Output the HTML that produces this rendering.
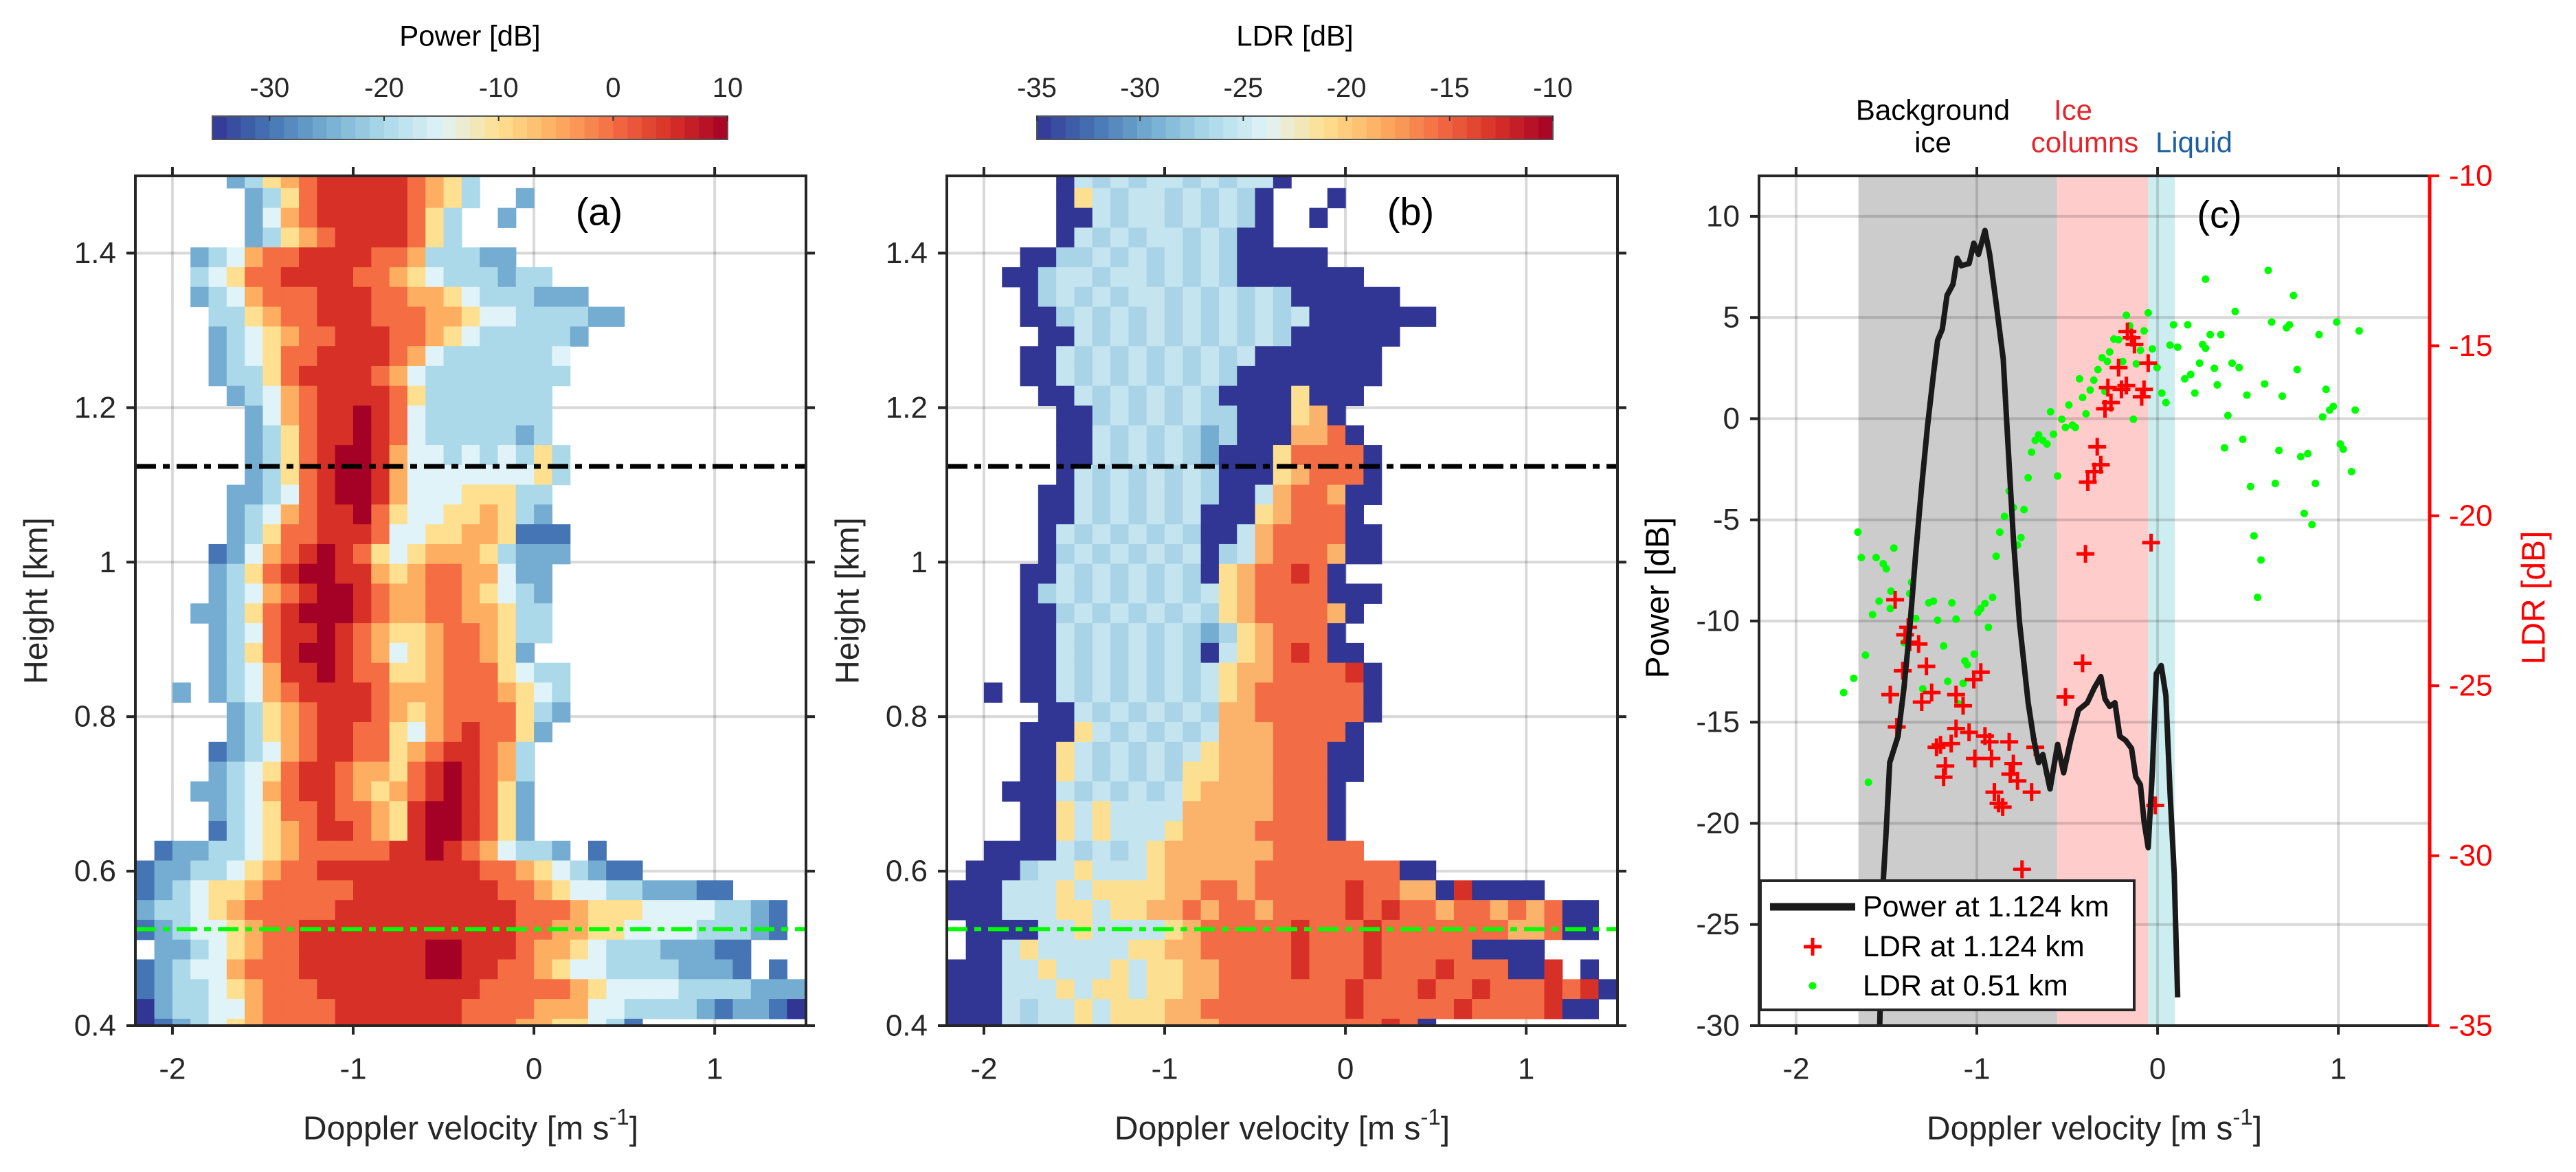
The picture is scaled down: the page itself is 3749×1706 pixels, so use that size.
<!DOCTYPE html>
<html><head><meta charset="utf-8"><title>Radar Doppler spectra</title>
<style>
html,body{margin:0;padding:0;background:#fff;}
svg{display:block;font-family:"Liberation Sans",Arial,sans-serif;}
</style></head>
<body>
<svg id="chart" xmlns="http://www.w3.org/2000/svg" width="3749" height="1706" viewBox="0 0 3749 1706"></svg>
<script>
// ---------- DATA ----------
const velStart = -2.2;
const velStep = 0.1;
const firstRowBottom = 0.3834;
const rowStep = 0.0256;
const powerLevelDb = [-33, -28.5, -24, -19.5, -15, -10.5, -6, -1.5, 3, 7.5];
const ldrLevelDb = [-35, -32.5, -30, -27.5, -25, -22.5, -20, -16.5, -13, -11];
const powerRows = [
".....23567888887653",
"......2357888887653..2",
"......246788888753..2",
"......235678888753",
"...234677888877633322",
"...34577888877654333233",
"...2346777888776654333222",
"....33567788877766544333322",
"....234567788877654333332",
"....23457788887643333334",
"....23357888876433333333",
".....234678888753333333",
"......24678898743333333",
"......23578898743333323",
"......235789986443434353",
"......235789986444444453",
".....223478998644455533",
".....234678897544556532",
".....2357788874455665111",
"....12467898754566653222",
"....2357899886567766422",
"....2346789987667765432",
"...22357899987667766533",
"....2347889876556776533",
"....235789987645677652",
"....23468898775567775433",
"..2.23467888876667776543",
".....2356788876567777532",
".....235678877546787752",
"....123467887756788763",
"....234578876657898763",
"...2234678876567898752",
"....234577877658998752",
"....134567887658998752",
".12233456777778898764332.1",
"1223345677888888888776543211",
"123455677777888888887765443322211",
"233456777778888888888777655544443321",
"123445677888888888888776655444433321",
".223456778888888998887665433322211",
"1234467778888888998877654433332221.1",
"1233456777888888888777776544443333222",
"0233446777788888887777666443333212210",
"0123456777788888887776655431"
];
const ldrRows = [
"......0434344343440",
"......054344343430...0",
"......004344343430..0",
"......043434434300",
"....00334343434300000",
"...00344344343430000000",
"....034343443434343000000",
"....00343434343434340000000",
".....00434343434343000000",
"....00434343434340000000",
"....00434343434300000000",
".....004343434300005000",
"......0034343433000560",
"......00434343230006670",
"......004343432000577770",
"......043434343000567770",
".....0043434343004677600",
".....004343434000567770",
".....0434343430046777700",
".....0343434340346777600",
"....004343434305677870",
"....03434343434567777000",
"....0034343434356777760",
"....004343434323567770",
"....0043434343045678700",
"....00434343434566777780",
"..0.00434343434567777770",
".....0043434343667777770",
"....0005434343466677770",
"....0054343434566677700",
"....0054343435566677700",
"...0004343434566667770",
"....005454444666667770",
"....005454445666677770",
"..000043434566666677777",
".00034454445666667777777700",
"000444545555667767777787766080000",
"0004445545566767767777878776776767 00".replace(' ',''),
".00004454444567777787778777777766700",
".00454444455667777787778777770000",
"0004454445455667777877787778777008.0",
"0004445455455667777777877787787778780",
"00043445455566777777778777778777780 0.0".replace(' ',''),
"000434454555666777777777870"
];
const powerVel = [-1.54,-1.518,-1.501,-1.482,-1.436,-1.403,-1.371,-1.338,-1.305,-1.273,-1.240,-1.217,-1.191,-1.165,-1.132,-1.109,-1.086,-1.043,-1.017,-0.991,-0.955,-0.929,-0.896,-0.854,-0.831,-0.798,-0.765,-0.716,-0.684,-0.658,-0.635,-0.595,-0.553,-0.520,-0.481,-0.438,-0.389,-0.350,-0.314,-0.291,-0.265,-0.236,-0.209,-0.177,-0.144,-0.121,-0.095,-0.075,-0.052,-0.029,-0.007,0.020,0.046,0.069,0.092,0.111];
const powerDb = [-31,-22.9,-20.3,-17.0,-15.7,-13.3,-10.35,-6.65,-3.33,-0.38,2.2,3.87,4.42,6.09,6.64,7.93,7.56,7.67,8.67,8.12,9.3,8.12,5.9,2.95,-0.75,-5.9,-9.98,-14.04,-15.9,-17.0,-16.6,-18.3,-16.1,-17.5,-15.9,-14.4,-14.04,-13.3,-12.75,-13.85,-14.22,-14.04,-15.7,-15.9,-16.3,-17.7,-18.1,-19.9,-21.2,-17.4,-12.6,-12.2,-13.7,-18.5,-22.5,-28.6];
const ldr1Vel = [-1.452,-1.380,-1.397,-1.371,-1.322,-1.410,-1.279,-1.479,-1.250,-1.305,-1.443,-1.223,-1.201,-1.142,-1.174,-1.184,-1.115,-1.076,-1.115,-1.017,-0.978,-1.043,-1.011,-0.955,-0.929,-0.919,-0.821,-0.798,-0.815,-0.775,-0.903,-0.880,-0.857,-0.697,-0.677,-0.510,-0.415,-0.399,-0.386,-0.350,-0.314,-0.334,-0.291,-0.275,-0.258,-0.216,-0.200,-0.173,-0.088,-0.075,-0.052,-0.167,-0.144,-0.128,-0.036,-0.013,-0.75];
const ldr1Db = [-22.47,-23.28,-23.50,-23.72,-23.77,-24.56,-24.43,-25.26,-25.20,-25.48,-26.21,-26.81,-26.74,-26.70,-27.36,-27.69,-25.26,-25.59,-26.26,-24.82,-24.60,-26.37,-27.14,-26.48,-26.65,-27.14,-26.65,-27.29,-27.60,-27.80,-28.13,-28.46,-28.57,-28.13,-26.81,-25.33,-24.34,-21.12,-19.01,-18.70,-18.50,-17.97,-16.85,-16.23,-16.67,-15.64,-16.28,-16.17,-16.50,-16.28,-15.51,-14.58,-14.76,-14.96,-20.79,-28.52,-30.4];
const ldr2Vel = [-1.737,-1.681,-1.616,-1.658,-1.639,-1.557,-1.518,-1.501,-1.459,-1.577,-1.541,-1.479,-1.475,-1.403,-1.361,-1.371,-1.338,-1.299,-1.266,-1.240,-1.217,-1.184,-1.138,-1.115,-1.161,-1.076,-1.066,-1.053,-1.014,-0.994,-0.978,-0.955,-0.936,-0.913,-1.600,-1.102,-0.893,-0.873,-0.847,-0.821,-0.798,-0.775,-0.756,-0.739,-0.716,-0.697,-0.677,-0.658,-0.635,-0.612,-0.592,-0.576,-0.553,-0.530,-0.510,-0.491,-0.471,-0.455,-0.432,-0.415,-0.396,-0.373,-0.353,-0.330,-0.307,-0.291,-0.278,-0.265,-0.242,-0.216,-0.193,-0.173,-0.154,-0.134,-0.118,-0.095,-0.075,-0.052,-0.029,-0.003,0.023,0.046,0.069,0.088,0.111,0.150,0.167,0.183,0.206,0.232,0.249,0.265,0.291,0.314,0.330,0.350,0.370,0.389,0.412,0.429,0.451,0.471,0.494,0.514,0.533,0.553,0.572,0.592,0.612,0.631,0.651,0.671,0.690,0.713,0.729,0.752,0.772,0.792,0.811,0.831,0.854,0.873,0.893,0.913,0.932,0.952,0.972,0.991,1.011,1.027,1.073,1.093,1.115,0.265];
const ldr2Db = [-25.20,-24.78,-24.10,-20.48,-21.23,-21.23,-21.41,-21.56,-20.95,-22.91,-22.51,-22.73,-22.22,-23.73,-21.96,-22.29,-23.02,-25.09,-22.56,-22.51,-23.07,-23.83,-22.56,-23.04,-24.87,-24.93,-24.27,-24.38,-24.07,-22.84,-22.73,-22.58,-23.28,-22.40,-27.84,-25.53,-21.19,-20.48,-20.02,-19.27,-19.76,-20.86,-20.64,-19.82,-18.88,-18.13,-17.78,-17.62,-17.78,-17.89,-16.94,-17.60,-18.83,-17.16,-17.40,-16.74,-17.33,-17.40,-15.97,-16.52,-17.00,-16.30,-16.01,-15.70,-15.35,-16.34,-15.46,-15.18,-14.80,-14.82,-15.46,-14.10,-14.41,-17.16,-15.53,-15.13,-14.56,-14.03,-15.09,-15.64,-16.39,-16.67,-14.98,-14.38,-15.04,-15.97,-14.38,-15.84,-16.39,-15.51,-14.96,-15.07,-14.67,-15.66,-16.15,-14.67,-18.00,-17.05,-15.51,-13.99,-15.64,-17.75,-16.45,-19.14,-20.59,-22.40,-21.30,-16.12,-12.78,-14.30,-19.05,-18.08,-16.48,-14.47,-14.38,-13.52,-15.70,-18.26,-19.93,-18.17,-20.26,-19.05,-14.67,-17.09,-16.28,-16.89,-16.78,-14.30,-17.89,-18.04,-18.70,-16.89,-14.56,-13.04];
const regionEdges = [-1.655, -0.556, -0.052, 0.095];
const regionNames = ["background-ice", "ice-columns", "liquid"];
const velTicks = [-2, -1, 0, 1];
const heightTicks = [0.4, 0.6, 0.8, 1.0, 1.2, 1.4];
const heightTickLabels = ["0.4", "0.6", "0.8", "1", "1.2", "1.4"];
const powerCbTicks = [-30, -20, -10, 0, 10];
const ldrCbTicks = [-35, -30, -25, -20, -15, -10];
const powerAxisTicks = [10, 5, 0, -5, -10, -15, -20, -25, -30];
const ldrAxisTicks = [-10, -15, -20, -25, -30, -35];
const markedHeights = [1.124, 0.525];

// ---------- RENDER ----------
const NS = 'http://www.w3.org/2000/svg';
const svg = document.getElementById('chart');
function mk(tag, attrs, parent) {
  const e = document.createElementNS(NS, tag);
  for (const k in attrs) e.setAttribute(k, attrs[k]);
  (parent || svg).appendChild(e);
  return e;
}
function txt(x, y, s, size, anchor, fill, parent) {
  const t = mk('text', {x: x, y: y, 'font-size': size, 'text-anchor': anchor || 'middle', 'dominant-baseline': 'central', fill: fill || '#262626'}, parent);
  t.textContent = s;
  return t;
}
const palette = ['#313695','#4575b4','#74add1','#abd9e9','#e0f3f8','#fee090','#fdae61','#f46d43','#d73027','#a50026'];
const ldrPalette = ['#313695','#4575b4','#74add1','#a9d3e6','#c4e5ef','#fddf92','#fbb26a','#f26d45','#d73027','#a50026'];
function hex2rgb(h){return [parseInt(h.substr(1,2),16),parseInt(h.substr(3,2),16),parseInt(h.substr(5,2),16)];}
function cmap(f){
  f = Math.max(0, Math.min(1, f));
  const p = f * (palette.length - 1); const i = Math.min(palette.length - 2, Math.floor(p)); const t = p - i;
  const a = hex2rgb(palette[i]), b = hex2rgb(palette[i + 1]);
  return 'rgb(' + a.map((v, j) => Math.round(v + (b[j] - v) * t)).join(',') + ')';
}
const TOP = 256, BOT = 1493, W = 976, H = BOT - TOP;
const XMIN = -2.205, XMAX = 1.505;
function xs(left, v){ return left + (v - XMIN) / (XMAX - XMIN) * W; }
function ysH(h){ return TOP + (1.5 - h) / 1.1 * H; }
const INK = '#262626';

function grid(left, yVals, yFn, parent) {
  velTicks.forEach(v => {
    const l = mk('line', {x1: xs(left, v), x2: xs(left, v), y1: TOP, y2: BOT, stroke: 'rgba(0,0,0,0.15)', 'stroke-width': 4}, parent);
    
    
  });
  yVals.forEach(y => {
    const l = mk('line', {x1: left, x2: left + W, y1: yFn(y), y2: yFn(y), stroke: 'rgba(0,0,0,0.15)', 'stroke-width': 4}, parent);
    
    
  });
}
function frame(left, yVals, yFn, rightColor, parent) {
  const r = mk('rect', {x: left, y: TOP, width: W, height: H, fill: 'none', stroke: INK, 'stroke-width': 4}, parent);
  
  
  velTicks.forEach(v => {
    const x = xs(left, v);
    const t1 = mk('line', {x1: x, x2: x, y1: BOT, y2: BOT + 13, stroke: INK, 'stroke-width': 4}, parent);
    
    
    const t2 = mk('line', {x1: x, x2: x, y1: TOP, y2: TOP - 13, stroke: INK, 'stroke-width': 4}, parent);
    
    
    const lb = txt(x, 1556, (v < 0 ? '-' : '') + Math.abs(v), 44, 'middle', INK, parent);
    
    
  });
  yVals.forEach(y => {
    const t1 = mk('line', {x1: left, x2: left - 13, y1: yFn(y), y2: yFn(y), stroke: INK, 'stroke-width': 4}, parent);
    
    
    if (!rightColor) {
      const t2 = mk('line', {x1: left + W, x2: left + W + 13, y1: yFn(y), y2: yFn(y), stroke: INK, 'stroke-width': 4}, parent);
      
      
    }
  });
  const xl = mk('text', {x: left + W / 2, y: 1643, 'font-size': 48, 'text-anchor': 'middle', 'dominant-baseline': 'central', fill: INK}, parent);
  xl.innerHTML = 'Doppler velocity [m s<tspan dy="-18" font-size="33">-1</tspan><tspan dy="18">]</tspan>';
  
  
}
function heatmap(left, rows, name, pal, parent) {
  const g = mk('g', {'clip-path': 'url(#clip-' + name + ')'}, parent);
  
  
  const n = rows.length;
  rows.forEach((row, i) => {
    const k = n - 1 - i;
    const hb = firstRowBottom + k * rowStep, ht = hb + rowStep;
    const y1 = ysH(ht), y2 = ysH(hb);
    for (let c = 0; c < row.length && c < 37; c++) {
      const ch = row[c];
      if (ch === '.' || ch === ' ') continue;
      const lvl = +ch;
      const v0 = velStart + c * velStep, v1 = v0 + velStep;
      const cell = mk('rect', {x: xs(left, v0), y: y1, width: xs(left, v1) - xs(left, v0) + 0.6, height: y2 - y1 + 0.6, fill: pal[lvl]}, g);
      
      
    }
  });
}
function markLines(left, parent) {
  const l1 = mk('line', {x1: left, x2: left + W, y1: ysH(markedHeights[0]), y2: ysH(markedHeights[0]), stroke: '#000', 'stroke-width': 7, 'stroke-dasharray': '30 10 10 10'}, parent);
  
  
  const l2 = mk('line', {x1: left, x2: left + W, y1: ysH(markedHeights[1]), y2: ysH(markedHeights[1]), stroke: '#00ff00', 'stroke-width': 6, 'stroke-dasharray': '30 10 10 10'}, parent);
  
  
}
function colorbar(x0, x1, vmin, vmax, ticks, title, parent) {
  const n = 36, w = (x1 - x0) / n;
  for (let i = 0; i < n; i++) {
    const b = mk('rect', {x: x0 + i * w, y: 169, width: w + 0.6, height: 34, fill: cmap((i + 0.5) / n)}, parent);
    
    
  }
  const fr = mk('rect', {x: x0, y: 169, width: x1 - x0, height: 34, fill: 'none', stroke: '#555', 'stroke-width': 2}, parent);
  
  
  ticks.forEach(t => {
    const x = x0 + (t - vmin) / (vmax - vmin) * (x1 - x0);
    const tk = mk('line', {x1: x, x2: x, y1: 169, y2: 176, stroke: '#333', 'stroke-width': 2}, parent);
    
    
    const lb = txt(x, 128, String(t), 40, 'middle', INK, parent);
    
    
  });
  const tt = txt((x0 + x1) / 2, 52, title, 42, 'middle', '#000', parent);
  
  
}
function yHeightLabels(left, parent) {
  heightTicks.forEach((h, i) => {
    const lb = txt(left - 28, ysH(h), heightTickLabels[i], 44, 'end', INK, parent);
    
    
  });
  const yl = mk('text', {x: 0, y: 0, 'font-size': 48, 'text-anchor': 'middle', 'dominant-baseline': 'central', fill: INK, transform: 'translate(' + (left - 144) + ',' + ((TOP + BOT) / 2) + ') rotate(-90)'}, parent);
  yl.textContent = 'Height [km]';
  
  
}

const defs = mk('defs', {});
[['power', 197], ['ldr', 1378], ['spec', 2560]].forEach(([n, l]) => {
  const cp = mk('clipPath', {id: 'clip-' + n}, defs);
  mk('rect', {x: l, y: TOP, width: W, height: H}, cp);
});

// Panel (a)
const pa = mk('g', {});


const LA = 197;
grid(LA, heightTicks, ysH, pa);
heatmap(LA, powerRows, 'power', palette, pa);
markLines(LA, pa);
frame(LA, heightTicks, ysH, null, pa);
yHeightLabels(LA, pa);
colorbar(309, 1059, -35, 10, powerCbTicks, 'Power [dB]', pa);
const la = txt(872, 308, '(a)', 56, 'middle', '#000', pa);



// Panel (b)
const pb = mk('g', {});


const LB = 1378;
grid(LB, heightTicks, ysH, pb);
heatmap(LB, ldrRows, 'ldr', ldrPalette, pb);
markLines(LB, pb);
frame(LB, heightTicks, ysH, null, pb);
yHeightLabels(LB, pb);
colorbar(1509, 2260, -35, -10, ldrCbTicks, 'LDR [dB]', pb);
const lbb = txt(2053, 308, '(b)', 56, 'middle', '#000', pb);



// Panel (c)
const pc = mk('g', {});


const LC = 2560;
function yP(p){ return TOP + (12 - p) / 42 * H; }
function yL(l){ return TOP + (-10 - l) / 25 * H; }
const regionColors = ['#cccccc', '#ffcccc', '#cdeef0'];
for (let i = 0; i < regionNames.length; i++) {
  const x0 = xs(LC, regionEdges[i]), x1 = xs(LC, regionEdges[i + 1]);
  const r = mk('rect', {x: x0, y: TOP, width: x1 - x0, height: H, fill: regionColors[i]}, pc);
  
  
}
grid(LC, powerAxisTicks, yP, pc);
const cg = mk('g', {'clip-path': 'url(#clip-spec)'}, pc);


ldr2Vel.forEach((v, i) => {
  const d = mk('circle', {cx: xs(LC, v), cy: yL(ldr2Db[i]), r: 5.5, fill: '#00ff00'}, cg);
  
  
});
ldr1Vel.forEach((v, i) => {
  const x = xs(LC, v), y = yL(ldr1Db[i]);
  const p = mk('path', {d: 'M' + (x - 13) + ' ' + y + 'H' + (x + 13) + 'M' + x + ' ' + (y - 13) + 'V' + (y + 13), stroke: '#ff0000', 'stroke-width': 5, fill: 'none'}, cg);
  
  
});
const pw = mk('polyline', {points: powerVel.map((v, i) => xs(LC, v) + ',' + yP(powerDb[i])).join(' '), fill: 'none', stroke: '#1a1a1a', 'stroke-width': 8, 'stroke-linejoin': 'round'}, cg);


frame(LC, powerAxisTicks, yP, '#ff0000', pc);
const rax = mk('line', {x1: LC + W, x2: LC + W, y1: TOP - 2, y2: BOT + 2, stroke: '#ff0000', 'stroke-width': 5}, pc);


powerAxisTicks.forEach(p => {
  const lb = txt(LC - 28, yP(p), String(p), 44, 'end', INK, pc);
  
  
});
ldrAxisTicks.forEach(l => {
  const tk = mk('line', {x1: LC + W, x2: LC + W + 14, y1: yL(l), y2: yL(l), stroke: '#ff0000', 'stroke-width': 4}, pc);
  
  
  const lb = txt(LC + W + 28, yL(l), String(l), 44, 'start', '#ff0000', pc);
  
  
});
const pyl = mk('text', {x: 0, y: 0, 'font-size': 48, 'text-anchor': 'middle', 'dominant-baseline': 'central', fill: '#000', transform: 'translate(2413,870) rotate(-90)'}, pc);
pyl.textContent = 'Power [dB]';


const lyl = mk('text', {x: 0, y: 0, 'font-size': 48, 'text-anchor': 'middle', 'dominant-baseline': 'central', fill: '#ff0000', transform: 'translate(3688,870) rotate(-90)'}, pc);
lyl.textContent = 'LDR [dB]';


const lc = txt(3230, 312, '(c)', 56, 'middle', '#000', pc);


const rl1 = txt(2813, 160, 'Background', 42, 'middle', '#000', pc);


const rl2 = txt(2813, 207, 'ice', 42, 'middle', '#000', pc);


const rl3 = txt(3017, 160, 'Ice', 42, 'middle', '#e4262c', pc);


const rl4 = txt(3034, 207, 'columns', 42, 'middle', '#e4262c', pc);


const rl5 = txt(3193, 207, 'Liquid', 42, 'middle', '#1d5fa3', pc);


const lg = mk('g', {}, pc);


const lgb = mk('rect', {x: 2562, y: 1282, width: 544, height: 188, fill: '#fff', stroke: INK, 'stroke-width': 4}, lg);


const e1 = mk('line', {x1: 2576, x2: 2700, y1: 1320, y2: 1320, stroke: '#1a1a1a', 'stroke-width': 11}, lg);


const e2 = mk('path', {d: 'M2625 1378H2651M2638 1365V1391', stroke: '#ff0000', 'stroke-width': 5}, lg);


const e3 = mk('circle', {cx: 2638, cy: 1435, r: 5.5, fill: '#00ff00'}, lg);


const t1 = txt(2711, 1320, 'Power at 1.124 km', 43, 'start', '#000', lg);


const t2 = txt(2711, 1378, 'LDR at 1.124 km', 43, 'start', '#000', lg);


const t3 = txt(2711, 1435, 'LDR at 0.51 km', 43, 'start', '#000', lg);


</script>
</body></html>
